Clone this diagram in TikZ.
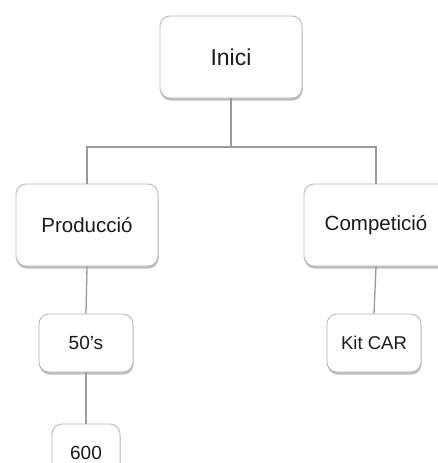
\documentclass[tikz,border=0pt]{standalone}
\usepackage{fontspec}
\setmainfont{Liberation Sans}
\usetikzlibrary{shadows}
\definecolor{edgegray}{HTML}{B4B4B4}
\definecolor{linkgray}{HTML}{9A9A9A}
\definecolor{inkdark}{HTML}{1A1A1A}
\begin{document}
\begin{tikzpicture}[x=1pt,y=-1pt,
  card/.style={draw=edgegray, line width=0.8pt, fill=white, rounded corners=10pt,
    text=inkdark, inner sep=0pt, align=center,
    drop shadow={shadow xshift=0.5pt, shadow yshift=-2.5pt, opacity=0.25, fill=black}},
  link/.style={draw=linkgray, line width=1.3pt}]
  \clip (0,0) rectangle (438,463);
  \fill[white] (0,0) rectangle (438,463);

  % tree nodes
  \node[card, minimum width=142pt, minimum height=82pt, font=\fontsize{23}{26}\selectfont] (inici) at (231,57) {Inici};
  \node[card, minimum width=142pt, minimum height=82pt, font=\fontsize{20.5}{24}\selectfont] (prod) at (87,225) {Producció};
  \node[card, minimum width=144pt, minimum height=82pt, font=\fontsize{20.5}{24}\selectfont] (comp) at (376,225) {Competició};
  \node[card, minimum width=94pt, minimum height=58pt, font=\fontsize{19}{22}\selectfont] (fifties) at (86,343) {50\char"0027 s};
  \node[card, minimum width=94pt, minimum height=58pt, font=\fontsize{18.5}{22}\selectfont] (kit) at (374,343) {Kit CAR};
  \node[card, minimum width=68pt, minimum height=58pt, font=\fontsize{19}{22}\selectfont] (six) at (86,453) {600};

  % connectors
  \coordinate (fork) at (231,147);
  \path[link] (inici.south) -- (fork);
  \path[link] (fork) -| (prod.north);
  \path[link] (fork) -| (comp.north);
  \path[link] (prod.south) -- (fifties.north);
  \path[link] (comp.south) -- (kit.north);
  \path[link] (fifties.south) -- (six.north);
\end{tikzpicture}
\end{document}
